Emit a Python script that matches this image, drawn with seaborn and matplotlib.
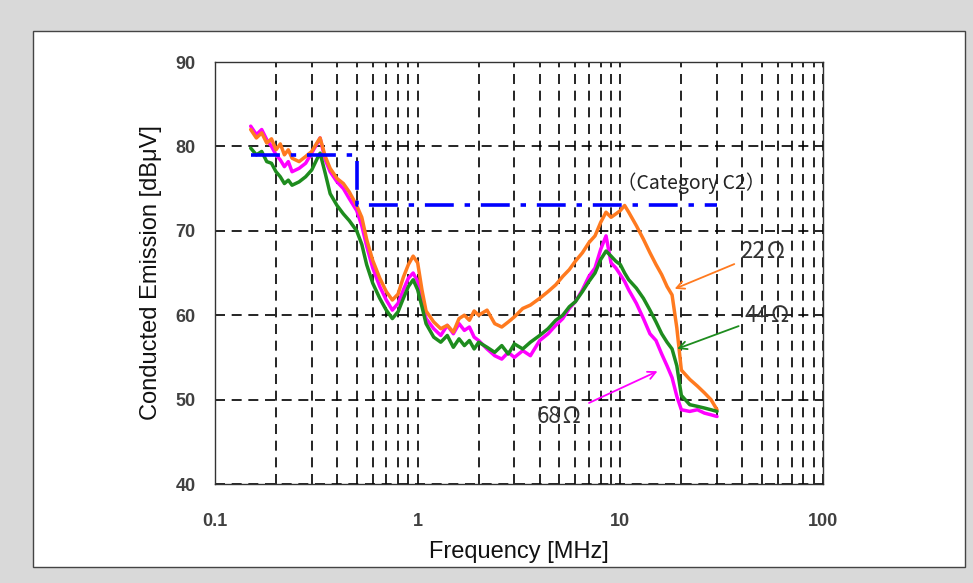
import numpy as np
import pandas as pd
import matplotlib
matplotlib.use("Agg")
import matplotlib.pyplot as plt
from matplotlib.patches import Rectangle
from matplotlib.ticker import LogLocator, NullFormatter, FixedLocator
import seaborn as sns

# ---------------- data ----------------
freq_mhz = [0.15, 0.16, 0.17, 0.18, 0.19, 0.20, 0.21, 0.22, 0.23, 0.24, 0.26, 0.28,
            0.30, 0.32, 0.33, 0.35, 0.37, 0.40, 0.43, 0.46, 0.50, 0.53, 0.56, 0.60,
            0.65, 0.70, 0.75, 0.80, 0.85, 0.90, 0.95, 1.0, 1.05, 1.1, 1.2, 1.3, 1.4,
            1.5, 1.6, 1.7, 1.8, 1.9, 2.0, 2.2, 2.4, 2.6, 2.8, 3.0, 3.3, 3.6, 4.0, 4.4,
            4.8, 5.2, 5.6, 6.0, 6.5, 7.0, 7.5, 8.0, 8.5, 9.0, 9.5, 10, 10.5, 11, 12,
            13, 14, 15, 16, 17, 18, 19, 20, 22, 24, 26, 28, 30]

emission_22ohm = [82.0, 81.0, 81.6, 80.4, 80.9, 79.6, 80.3, 79.0, 79.6, 78.6, 78.2, 78.8,
                  79.4, 80.5, 81.0, 78.8, 77.4, 76.2, 75.6, 74.6, 73.0, 71.6, 69.0, 66.5,
                  64.4, 62.8, 61.8, 62.5, 64.5, 66.0, 67.0, 66.2, 63.0, 60.5, 59.2, 58.4, 58.8,
                  58.0, 59.6, 60.0, 59.4, 60.5, 60.0, 60.6, 59.0, 58.6, 59.2, 59.8, 60.8, 61.2,
                  62.0, 62.8, 63.6, 64.6, 65.4, 66.4, 67.4, 68.6, 69.4, 71.0, 72.2, 71.6, 72.0,
                  72.4, 73.0, 72.2, 70.6, 69.0, 67.4, 66.0, 64.8, 63.4, 62.4, 58.5, 53.5,
                  52.4, 51.6, 50.8, 50.0, 48.8]

emission_44ohm = [79.8, 79.0, 79.4, 78.2, 78.0, 77.0, 76.4, 75.6, 76.0, 75.4, 75.8, 76.4,
                  77.2, 78.6, 79.2, 76.8, 74.4, 73.0, 72.0, 71.2, 70.0, 68.4, 66.0, 63.8,
                  62.0, 60.6, 59.6, 60.4, 62.0, 63.4, 64.2, 63.0, 61.0, 59.0, 57.4, 56.8, 57.6,
                  56.2, 57.2, 56.4, 57.0, 56.0, 56.8, 56.2, 55.6, 56.4, 55.4, 56.6, 56.0, 56.8,
                  57.6, 58.4, 59.4, 60.0, 61.0, 61.6, 62.8, 64.0, 65.0, 66.6, 67.6, 67.0, 66.4,
                  66.0, 65.0, 64.2, 63.2, 62.0, 60.6, 59.2, 57.8, 56.8, 56.0, 54.0, 50.5,
                  49.4, 49.2, 49.0, 48.8, 48.6]

emission_68ohm = [82.4, 81.4, 82.0, 80.8, 80.0, 79.0, 78.4, 77.6, 78.2, 77.0, 77.4, 78.0,
                  79.2, 80.4, 81.0, 78.4, 77.0, 75.8, 75.0, 73.8, 72.4, 70.6, 68.2, 65.6,
                  63.4, 61.8, 60.6, 61.4, 63.0, 64.4, 65.0, 64.0, 61.6, 59.6, 58.4, 57.6, 58.8,
                  57.8, 59.0, 58.2, 58.6, 57.4, 57.0, 56.0, 55.2, 54.8, 55.6, 55.0, 55.8, 55.2,
                  57.0, 57.8, 58.8, 59.6, 60.8, 61.6, 63.0, 64.6, 65.6, 67.8, 69.4, 66.2, 65.6,
                  64.8, 64.0, 63.0, 61.4, 59.6, 57.8, 57.0, 55.4, 54.0, 52.6, 50.4, 48.8,
                  48.6, 48.8, 48.4, 48.2, 48.0]

limit_freq = [0.15, 0.5, 0.5, 30]
limit_c2 = [79, 79, 73, 73]

series_labels = ["22\u2126", "44\u2126", "68\u2126"]
x_ticks = [0.1, 1, 10, 100]
x_tick_labels = ["0.1", "1", "10", "100"]
y_ticks = [40, 50, 60, 70, 80, 90]

# ---------------- style ----------------
sns.set_style("white")
plt.rcParams["font.family"] = ["Liberation Sans", "DejaVu Sans"]

fig = plt.figure(figsize=(9.73, 5.83), dpi=100, facecolor="#d9d9d9")
fig.patches.append(Rectangle((33 / 973, 1 - 567 / 583), (965 - 33) / 973, (567 - 31) / 583,
                             transform=fig.transFigure, facecolor="white",
                             edgecolor="#444444", linewidth=1.0, zorder=-5))
ax = fig.add_axes([215 / 973, 1 - 484 / 583, (823 - 215) / 973, (484 - 62) / 583])
ax.set_facecolor("white")

c_orange = "#ff7a1f"
c_green = "#1e8c1e"
c_magenta = "#ff00ff"

df = pd.DataFrame({"freq": freq_mhz, "r22": emission_22ohm,
                   "r44": emission_44ohm, "r68": emission_68ohm})

sns.lineplot(data=df, x="freq", y="r68", ax=ax, color=c_magenta, lw=2.5,
             estimator=None, sort=False, zorder=3)
sns.lineplot(data=df, x="freq", y="r22", ax=ax, color=c_orange, lw=2.5,
             estimator=None, sort=False, zorder=4)
sns.lineplot(data=df, x="freq", y="r44", ax=ax, color=c_green, lw=2.5,
             estimator=None, sort=False, zorder=5)

lim = pd.DataFrame({"freq": limit_freq, "lim": limit_c2})
sns.lineplot(data=lim, x="freq", y="lim", ax=ax, color="#0000ff", lw=2.6,
             estimator=None, sort=False, zorder=6)
ax.lines[-1].set_dashes([8, 3, 1.5, 3])

ax.set_xscale("log")
ax.set_xlim(0.1, 100)
ax.set_ylim(40, 90)
ax.xaxis.set_major_locator(FixedLocator(x_ticks))
ax.set_xticklabels(x_tick_labels)
ax.xaxis.set_minor_locator(LogLocator(base=10, subs=np.arange(2, 10)))
ax.xaxis.set_minor_formatter(NullFormatter())
ax.set_yticks(y_ticks)

ax.grid(True, which="both", axis="x", color="black", linestyle=(0, (6, 4)), lw=1.2)
ax.grid(True, which="major", axis="y", color="black", linestyle=(0, (6, 4)), lw=1.2)

ax.tick_params(axis="both", which="major", direction="in", length=4, color="#333333",
               labelsize=13, labelcolor="#404040")
ax.tick_params(axis="x", which="minor", length=0)
ax.tick_params(axis="y", pad=14)
ax.tick_params(axis="x", pad=21)
for lab in ax.get_xticklabels() + ax.get_yticklabels():
    lab.set_fontweight("bold")

for sp in ax.spines.values():
    sp.set_color("#333333")
    sp.set_linewidth(1.0)
    sp.set_visible(True)

ax.set_xlabel("Frequency [MHz]", fontsize=17, color="#111111", labelpad=8)
ax.set_ylabel("Conducted Emission [dBμV]", fontsize=17, color="#111111", labelpad=10)

cjk = ["Noto Sans CJK JP", "DejaVu Sans"]
ax.text(22.3, 75.7, "（Category C2）", fontsize=14, family=cjk, color="#222222",
        ha="center", va="center", zorder=7)

ax.annotate(series_labels[0], xy=(18.0, 63.0), xytext=(39.0, 67.5), fontsize=16,
            family=cjk, color="#333333", ha="left", va="center",
            arrowprops=dict(arrowstyle="->", color=c_orange, lw=1.3, mutation_scale=14),
            zorder=7)
ax.annotate(series_labels[1], xy=(18.5, 55.9), xytext=(41.0, 60.0), fontsize=16,
            family=cjk, color="#333333", ha="left", va="center",
            arrowprops=dict(arrowstyle="->", color=c_green, lw=1.3, mutation_scale=14),
            zorder=7)
ax.annotate(series_labels[2], xy=(15.7, 53.5), xytext=(3.85, 48.0), fontsize=16,
            family=cjk, color="#333333", ha="left", va="center",
            arrowprops=dict(arrowstyle="->", color=c_magenta, lw=1.3, mutation_scale=14),
            zorder=7)

fig.savefig("out.png", dpi=100, facecolor=fig.get_facecolor())
